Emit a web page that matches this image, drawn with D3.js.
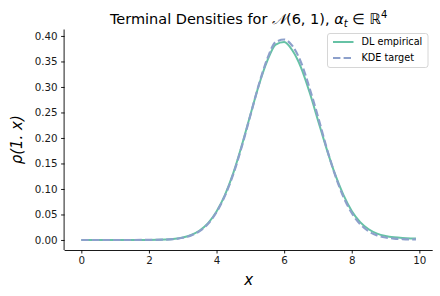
<!DOCTYPE html>
<meta charset="utf-8">
<style>
    body { margin: 0; background: #fff; }
    svg { font-family: "DejaVu Sans", sans-serif; }
    .dlLine {
        fill: none;
        stroke: #66c2a5;
        stroke-width: 2px;
    }
    .kdeLine {
        fill: none;
        stroke: #8da0cb;
        stroke-width: 2.2px;
        stroke-dasharray: 7.4 3.2;
    }
    .axis path, .axis line { stroke: #000; stroke-width: 0.9px; }
    .axis text { font-size: 10.3px; fill: #1a1a1a; font-family: "DejaVu Sans", sans-serif; }
</style>
<body>
    <script src="https://d3js.org/d3.v7.min.js"></script>
    <script>

        // grid of x values and the two density curves
        var xs = [0, 0.5, 1, 1.5, 2, 2.5, 3, 3.25, 3.5, 3.75, 4, 4.25, 4.5, 4.75, 5, 5.25, 5.5, 5.75,
                  6, 6.25, 6.5, 6.75, 7, 7.25, 7.5, 7.75, 8, 8.25, 8.5, 8.75, 9, 9.25, 9.5, 9.75, 9.9];
        var dlEmpirical = [0.0000, 0.0000, 0.0000, 0.0000, 0.0001, 0.0008, 0.0048, 0.0097, 0.0185, 0.0330,
                  0.0560, 0.0885, 0.1320, 0.1860, 0.2450, 0.3030, 0.3510, 0.3830, 0.3880, 0.3710,
                  0.3380, 0.2900, 0.2350, 0.1800, 0.1300, 0.0890, 0.0570, 0.0350, 0.0210, 0.0125,
                  0.0078, 0.0052, 0.0038, 0.0031, 0.0029];
        var kdeTarget = [0.0000, 0.0000, 0.0000, 0.0000, 0.0001, 0.0007, 0.0044, 0.0090, 0.0175, 0.0318,
                  0.0545, 0.0870, 0.1300, 0.1840, 0.2440, 0.3040, 0.3550, 0.3880, 0.3930, 0.3800,
                  0.3480, 0.2980, 0.2420, 0.1820, 0.1290, 0.0850, 0.0530, 0.0310, 0.0170, 0.0090,
                  0.0048, 0.0028, 0.0018, 0.0013, 0.0012];
        var xTicks = [0, 2, 4, 6, 8, 10];
        var yTicks = [0, 0.05, 0.10, 0.15, 0.20, 0.25, 0.30, 0.35, 0.40];

        var W = 440, H = 296;
        var margin = {top: 29.5, right: 7.3, bottom: 46, left: 64.6},
            width = W - margin.left - margin.right,
            height = H - margin.top - margin.bottom;

        // matplotlib style 5% padding around the data
        var xExt = d3.extent(xs);
        var yMax = d3.max(dlEmpirical.concat(kdeTarget)), yMin = 0;
        var xPad = (xExt[1] - xExt[0]) * 0.05, yPad = (yMax - yMin) * 0.05;

        var x = d3.scaleLinear().domain([xExt[0] - xPad, xExt[1] + xPad]).range([0, width]);
        var y = d3.scaleLinear().domain([yMin - yPad, yMax + yPad]).range([height, 0]);

        var svg = d3.select("body").append("svg")
            .attr("width", W)
            .attr("height", H);
        var g = svg.append("g")
            .attr("transform", "translate(" + margin.left + "," + margin.top + ")");

        var dlLine = d3.line()
            .x(function(d, i) { return x(xs[i]); })
            .y(function(d) { return y(d); })
            .curve(d3.curveMonotoneX);

        g.append("path").datum(dlEmpirical).attr("class", "dlLine").attr("d", dlLine);
        g.append("path").datum(kdeTarget).attr("class", "kdeLine").attr("d", dlLine);

        // axes (only left and bottom spines)
        var xAxis = g.append("g")
            .attr("class", "axis")
            .attr("transform", "translate(0," + height + ")")
            .call(d3.axisBottom(x).tickValues(xTicks).tickSize(3.5).tickPadding(3.5).tickFormat(d3.format("d")));
        xAxis.select(".domain").attr("d", "M0,0.5H" + width);

        var yAxis = g.append("g")
            .attr("class", "axis")
            .call(d3.axisLeft(y).tickValues(yTicks).tickSize(3.5).tickPadding(3.5).tickFormat(d3.format(".2f")));
        yAxis.select(".domain").attr("d", "M-0.5," + height + "V0");

        // title with math
        var title = svg.append("text")
            .attr("x", margin.left + width / 2)
            .attr("y", 23.5)
            .attr("text-anchor", "middle")
            .style("font-size", "14.5px")
            .attr("fill", "#000");
        title.append("tspan").text("Terminal Densities for ");
        title.append("tspan").style("font-style", "italic").text("𝒩");
        title.append("tspan").text("(6, 1), ");
        title.append("tspan").style("font-style", "italic").text("α");
        title.append("tspan").style("font-style", "italic").style("font-size", "10px").attr("dy", 3).text("t");
        title.append("tspan").attr("dy", -3).text(" ∈ ℝ");
        title.append("tspan").style("font-size", "10px").attr("dy", -6).text("4");

        // axis labels
        svg.append("text")
            .attr("x", margin.left + width / 2)
            .attr("y", 285)
            .attr("text-anchor", "middle")
            .style("font-size", "15px")
            .style("font-style", "italic")
            .text("x");

        svg.append("text")
            .attr("transform", "translate(22," + (margin.top + height / 2) + ") rotate(-90)")
            .attr("text-anchor", "middle")
            .style("font-size", "15px")
            .style("font-style", "italic")
            .text("ρ(1. x)");

        // legend
        var legendItems = [
            {label: "DL empirical", cls: "dlLine"},
            {label: "KDE target", cls: "kdeLine"}
        ];
        var lg = svg.append("g").attr("transform", "translate(327.5,33.5)");
        lg.append("rect")
            .attr("width", 100.5).attr("height", 34)
            .attr("rx", 2.5)
            .attr("fill", "#fff").attr("fill-opacity", 0.8)
            .attr("stroke", "#ccc").attr("stroke-width", 0.8);
        var items = lg.selectAll(".item").data(legendItems).enter().append("g")
            .attr("transform", function(d, i) { return "translate(0," + (8.5 + i * 16) + ")"; });
        items.append("line")
            .attr("class", function(d) { return d.cls; })
            .attr("x1", 5.5).attr("x2", 26);
        items.append("text")
            .attr("x", 34).attr("dy", "0.35em")
            .style("font-size", "9.7px")
            .text(function(d) { return d.label; });

    </script>
</body>
